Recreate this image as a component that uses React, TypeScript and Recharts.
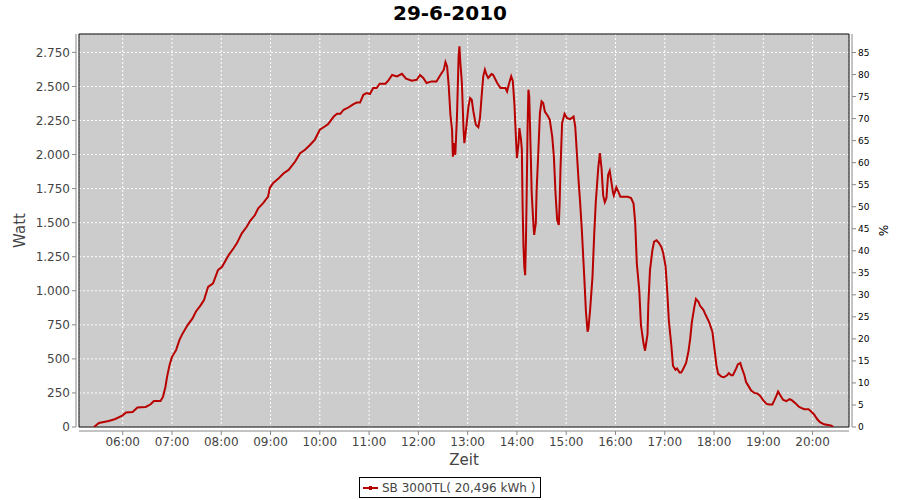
import React from 'react';
import { LineChart, Line, XAxis, YAxis, CartesianGrid, ReferenceArea, Label } from 'recharts';

const times = [
  '05:25', '05:31', '05:43', '05:51', '06:00', '06:04', '06:12', '06:18', '06:28', '06:34',
  '06:38', '06:46', '06:49', '06:52', '06:54', '06:57', '07:00', '07:05', '07:09', '07:13',
  '07:19', '07:25', '07:29', '07:35', '07:39', '07:44', '07:50', '07:56', '08:01', '08:09',
  '08:15', '08:19', '08:25', '08:31', '08:35', '08:41', '08:45', '08:51', '08:57', '08:59',
  '09:03', '09:10', '09:16', '09:22', '09:30', '09:36', '09:42', '09:48', '09:54', '10:00',
  '10:06', '10:10', '10:17', '10:21', '10:25', '10:29', '10:35', '10:41', '10:45', '10:49',
  '10:53', '10:57', '11:01', '11:05', '11:09', '11:13', '11:20', '11:24', '11:28', '11:34',
  '11:40', '11:45', '11:52', '11:58', '12:02', '12:06', '12:10', '12:16', '12:22', '12:27',
  '12:31', '12:33', '12:35', '12:37', '12:39', '12:41', '12:42', '12:44', '12:45', '12:47',
  '12:49', '12:50', '12:51', '12:53', '12:55', '12:56', '12:58', '13:01', '13:03', '13:05',
  '13:07', '13:10', '13:13', '13:15', '13:17', '13:19', '13:21', '13:23', '13:25', '13:29',
  '13:31', '13:36', '13:40', '13:46', '13:48', '13:50', '13:53', '13:55', '13:57', '13:58',
  '13:59', '14:00', '14:02', '14:03', '14:05', '14:06', '14:07', '14:08', '14:09', '14:10',
  '14:11', '14:12', '14:13', '14:14', '14:15', '14:17', '14:18', '14:20', '14:21', '14:23',
  '14:24', '14:26', '14:28', '14:30', '14:32', '14:34', '14:38', '14:40', '14:43', '14:45',
  '14:47', '14:49', '14:51', '14:52', '14:53', '14:55', '14:58', '15:01', '15:05', '15:09',
  '15:11', '15:13', '15:15', '15:17', '15:19', '15:22', '15:24', '15:26', '15:27', '15:29',
  '15:32', '15:34', '15:36', '15:39', '15:41', '15:43', '15:45', '15:47', '15:49', '15:51',
  '15:53', '15:55', '15:57', '15:58', '16:01', '16:04', '16:06', '16:11', '16:15', '16:19',
  '16:22', '16:24', '16:26', '16:29', '16:31', '16:34', '16:36', '16:39', '16:40', '16:42',
  '16:45', '16:47', '16:50', '16:53', '16:56', '16:58', '17:01', '17:03', '17:05', '17:08',
  '17:10', '17:13', '17:15', '17:18', '17:20', '17:22', '17:26', '17:29', '17:31', '17:33',
  '17:36', '17:38', '17:41', '17:43', '17:47', '17:50', '17:54', '17:58', '18:00', '18:03',
  '18:05', '18:09', '18:12', '18:16', '18:18', '18:21', '18:23', '18:27', '18:29', '18:32',
  '18:34', '18:37', '18:39', '18:42', '18:45', '18:49', '18:53', '18:56', '19:00', '19:04',
  '19:07', '19:11', '19:13', '19:16', '19:18', '19:21', '19:24', '19:28', '19:32', '19:35',
  '19:39', '19:43', '19:46', '19:50', '19:55', '19:58', '20:02', '20:06', '20:09', '20:14',
  '20:19', '20:23', '20:25',
];

const watts = [
  0, 29, 44, 59, 86, 106, 110, 143, 147, 167,
  191, 191, 221, 294, 368, 454, 515, 564, 638, 687,
  748, 797, 846, 895, 932, 1029, 1054, 1152, 1176, 1262,
  1312, 1348, 1422, 1470, 1512, 1556, 1606, 1643, 1691, 1753,
  1790, 1826, 1863, 1887, 1949, 2010, 2035, 2070, 2110, 2182,
  2206, 2223, 2279, 2299, 2299, 2329, 2346, 2370, 2382, 2382,
  2439, 2451, 2444, 2488, 2488, 2520, 2520, 2549, 2584, 2574,
  2593, 2557, 2542, 2549, 2584, 2562, 2525, 2537, 2537, 2586,
  2623, 2679, 2647, 2500, 2292, 2182, 1985, 2084, 1998, 2279,
  2721, 2794, 2684, 2525, 2182, 2084, 2182, 2353, 2415, 2402,
  2316, 2218, 2201, 2268, 2426, 2574, 2623, 2586, 2562, 2591,
  2586, 2525, 2488, 2488, 2463, 2512, 2574, 2540, 2365, 2231,
  2096, 1974, 2084, 2194, 2108, 2035, 1593, 1323, 1176, 1115,
  1373, 1765, 2206, 2476, 2426, 1961, 1716, 1496, 1410, 1496,
  1740, 2010, 2304, 2390, 2378, 2316, 2279, 2255, 2132, 1985,
  1716, 1520, 1483, 1643, 1887, 2231, 2299, 2268, 2260, 2279,
  2206, 2010, 1814, 1643, 1450, 1100, 850, 700, 720, 850,
  1100, 1400, 1650, 1900, 2010, 1900, 1700, 1650, 1680, 1850,
  1880, 1800, 1720, 1700, 1760, 1720, 1690, 1690, 1690, 1680,
  1640, 1500, 1200, 1000, 750, 620, 560, 680, 900, 1150,
  1300, 1360, 1370, 1350, 1320, 1280, 1180, 1000, 780, 600,
  450, 420, 430, 400, 400, 420, 470, 560, 650, 770,
  880, 940, 920, 890, 860, 820, 770, 700, 600, 450,
  390, 370, 365, 380, 395, 380, 380, 430, 460, 470,
  430, 380, 330, 300, 270, 250, 245, 230, 195, 170,
  165, 165, 190, 230, 260, 230, 200, 190, 205, 195,
  175, 150, 140, 130, 130, 115, 90, 55, 35, 20,
  15, 10, 0,
];

const hourTicks = [6, 7, 8, 9, 10, 11, 12, 13, 14, 15, 16, 17, 18, 19, 20];
const wattTicks = [0, 250, 500, 750, 1000, 1250, 1500, 1750, 2000, 2250, 2500, 2750];
const percentTicks = [0, 5, 10, 15, 20, 25, 30, 35, 40, 45, 50, 55, 60, 65, 70, 75, 80, 85];

const X_MIN = 5.113;
const X_MAX = 20.739;
const W_MAX = 2885;
const P_MAX = 89.2;

const toHours = (s: string) => {
  const [h, m] = s.split(':').map(Number);
  return h + m / 60;
};

const data = times.map((t, i) => ({ t: toHours(t), watt: watts[i] }));

const fmtWatt = (v: number) =>
  v >= 1000 ? `${Math.floor(v / 1000)}.${String(v % 1000).padStart(3, '0')}` : String(v);

const fmtHour = (v: number) => `${String(v).padStart(2, '0')}:00`;

const FONT = '"DejaVu Sans", sans-serif';
const TEXT = '#444444';
const AXIS = '#888888';

export default function App() {
  return (
    <div style={{ position: 'absolute', left: 0, top: 0, width: 900, height: 500, background: '#fff', fontFamily: FONT }}>
      <div
        style={{
          position: 'absolute', left: 0, top: 1, width: 900, textAlign: 'center',
          fontSize: 20, fontWeight: 'bold', color: '#000', lineHeight: '24px',
        }}
      >
        29-6-2010
      </div>
      <LineChart width={900} height={500} data={data} margin={{ top: 34, right: 0, bottom: 0, left: 0 }}>
        {/* thin spacer axes: JFreeChart draws its axes a few px away from the plot */}
        <XAxis xAxisId="gap" type="number" domain={[0, 1]} height={4} tick={false} tickLine={false} axisLine={false} />
        <YAxis yAxisId="gapL" type="number" domain={[0, 1]} width={3} tick={false} tickLine={false} axisLine={false} />
        <YAxis yAxisId="gapR" orientation="right" type="number" domain={[0, 1]} width={3} tick={false} tickLine={false} axisLine={false} />
        <CartesianGrid
          xAxisId="main"
          yAxisId="left"
          fill="#cccccc"
          stroke="#ffffff"
          strokeDasharray="2 2"
        />
        <XAxis
          xAxisId="main"
          dataKey="t"
          type="number"
          domain={[X_MIN, X_MAX]}
          ticks={hourTicks}
          tickFormatter={fmtHour}
          allowDataOverflow
          height={69}
          tick={{ fontSize: 12, fill: TEXT, fontFamily: FONT }}
          tickSize={4}
          axisLine={{ stroke: AXIS }}
          tickLine={{ stroke: AXIS }}
        >
          <Label value="Zeit" position="insideTop" offset={23} style={{ fontSize: 15, fill: TEXT, fontFamily: FONT }} />
        </XAxis>
        <YAxis
          yAxisId="left"
          type="number"
          domain={[0, W_MAX]}
          ticks={wattTicks}
          tickFormatter={fmtWatt}
          allowDataOverflow
          width={76}
          tick={{ fontSize: 12, fill: TEXT, fontFamily: FONT }}
          tickSize={4}
          axisLine={{ stroke: AXIS }}
          tickLine={{ stroke: AXIS }}
        >
          <Label
            value="Watt"
            angle={-90}
            position="insideLeft"
            offset={20}
            style={{ fontSize: 15, fill: TEXT, fontFamily: FONT, textAnchor: 'middle' }}
          />
        </YAxis>
        <YAxis
          yAxisId="right"
          orientation="right"
          type="number"
          domain={[0, P_MAX]}
          ticks={percentTicks}
          allowDataOverflow
          width={48}
          tick={{ fontSize: 9, fill: '#000', fontFamily: FONT }}
          tickSize={4}
          axisLine={{ stroke: AXIS }}
          tickLine={{ stroke: AXIS }}
        >
          <Label
            value="%"
            angle={90}
            position="insideRight"
            offset={17}
            style={{ fontSize: 12, fill: '#000', fontFamily: FONT, textAnchor: 'middle' }}
          />
        </YAxis>
        <Line
          xAxisId="main"
          yAxisId="left"
          dataKey="watt"
          type="linear"
          stroke="#b80000"
          strokeWidth={2}
          dot={false}
          isAnimationActive={false}
        />
        <ReferenceArea
          xAxisId="main"
          yAxisId="left"
          x1={X_MIN}
          x2={X_MAX}
          y1={0}
          y2={W_MAX}
          fill="none"
          stroke="#000"
          strokeWidth={1}
          ifOverflow="visible"
        />
      </LineChart>
      <div
        style={{
          position: 'absolute', left: 359, top: 477, width: 180, height: 19,
          border: '1px solid #000', background: '#fff', boxSizing: 'content-box',
          display: 'flex', alignItems: 'center', fontSize: 12, color: TEXT,
        }}
      >
        <svg width={22} height={19} style={{ flex: 'none' }}>
          <line x1={3} y1={10} x2={18} y2={10} stroke="#b80000" strokeWidth={2} />
          <rect x={9} y={8} width={3} height={4} fill="#b80000" />
        </svg>
        <span style={{ whiteSpace: 'nowrap' }}>SB 3000TL( 20,496 kWh )</span>
      </div>
    </div>
  );
}
